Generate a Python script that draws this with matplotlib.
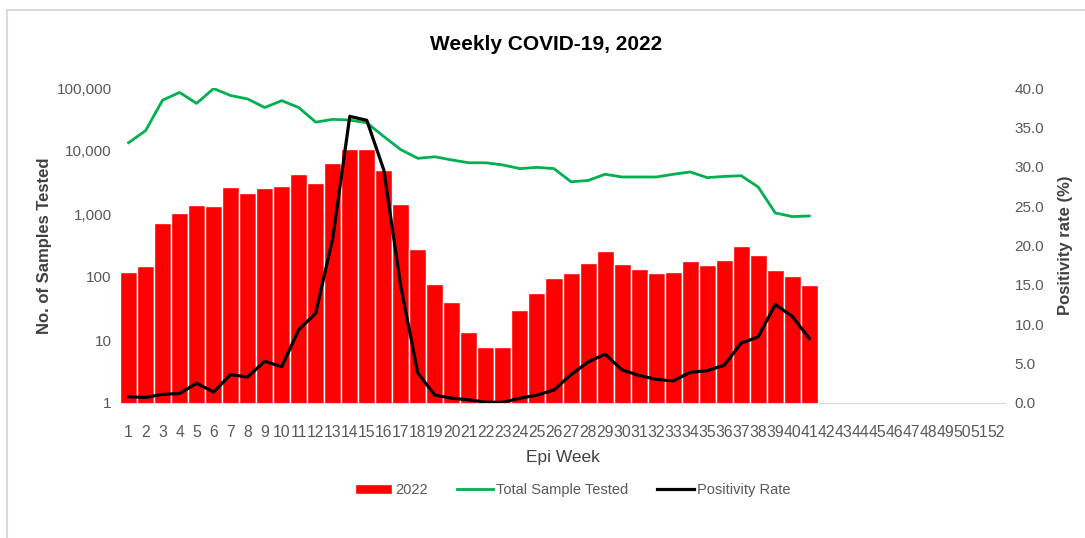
import numpy as np
import matplotlib
matplotlib.use("Agg")
import matplotlib.pyplot as plt
from matplotlib.patches import Rectangle
from matplotlib.ticker import FuncFormatter, FixedLocator

plt.rcParams['font.family'] = ['Liberation Sans Narrow', 'Liberation Sans', 'DejaVu Sans']

###############################################
# data
weeks = list(range(1, 53))
positives = [118, 148, 720, 1040, 1390, 1340, 2700, 2150, 2570, 2770,
             4300, 3080, 6450, 10700, 10700, 5000, 1440, 277, 77, 40,
             13.5, 7.8, 7.8, 30, 55, 95, 116, 166, 258, 161,
             133, 116, 120, 180, 154, 186, 314, 224, 129, 102, 76]
total_tested = [13500, 21000, 64000, 85000, 57000, 98000, 76000, 67000, 49000, 63000,
                49000, 28700, 31800, 31000, 28000, 17000, 10500, 7650, 8100, 7200,
                6500, 6500, 6000, 5250, 5500, 5250, 3250, 3400, 4270, 3870,
                3870, 3870, 4270, 4650, 3780, 3950, 4050, 2680, 1040, 910, 930]
positivity = [0.8, 0.7, 1.1, 1.2, 2.5, 1.4, 3.6, 3.3, 5.3, 4.6,
              9.3, 11.4, 20.9, 36.4, 35.9, 29.6, 14.8, 3.8, 1.0, 0.6,
              0.4, 0.1, 0.1, 0.6, 1.0, 1.65, 3.6, 5.2, 6.2, 4.2,
              3.5, 3.0, 2.8, 3.9, 4.1, 4.8, 7.6, 8.4, 12.5, 11.0, 8.2]
left_ticks = [1, 10, 100, 1000, 10000, 100000]
right_ticks = [0, 5, 10, 15, 20, 25, 30, 35, 40]
###############################################

RED = "#FF0000"
GREEN = "#00B050"
GRAY = "#595959"

fig = plt.figure(figsize=(10.85, 5.38), dpi=100)
# faint frame of the original screenshot
fig.patches.append(Rectangle((7 / 1085, -0.01), 1.1, 1 - 10 / 538 + 0.01,
                             transform=fig.transFigure, fill=False,
                             edgecolor="#D9D9D9", linewidth=1.5))

ax = fig.add_axes([120 / 1085, 1 - 403 / 538, 885 / 1085, 315 / 538])
ax2 = ax.twinx()

x = np.arange(len(weeks))
n = len(positives)

bars = ax.bar(x[:n], positives, width=1.0, color=RED, edgecolor="white",
              linewidth=1.0, label="2022", zorder=2)
green, = ax.plot(x[:n], total_tested, color=GREEN, linewidth=2.0,
                 label="Total Sample Tested", zorder=3)
black, = ax2.plot(x[:n], positivity, color="black", linewidth=2.3,
                  label="Positivity Rate", zorder=3)

ax.set_yscale("log")
ax.set_ylim(1, 100000)
ax.yaxis.set_major_locator(FixedLocator(left_ticks))
ax.yaxis.set_minor_locator(FixedLocator([]))
ax.yaxis.set_major_formatter(FuncFormatter(lambda v, p: f"{int(v):,}"))
ax.set_xlim(-0.5, len(weeks) - 0.5)
ax.set_xticks(x)
ax.set_xticklabels([str(w) for w in weeks])

ax2.set_ylim(0, 40)
ax2.set_yticks(right_ticks)
ax2.yaxis.set_major_formatter(FuncFormatter(lambda v, p: f"{v:.1f}"))

for a in (ax, ax2):
    for s in a.spines.values():
        s.set_visible(False)
    a.tick_params(length=0, colors=GRAY, labelsize=11)
ax.spines["bottom"].set_visible(True)
ax.spines["bottom"].set_color("#D9D9D9")
ax.tick_params(axis="x", pad=16, labelsize=11.3)
ax.tick_params(axis="y", pad=6)
ax2.tick_params(axis="y", pad=7)

ax.set_ylabel("No. of Samples Tested", fontsize=12, fontweight="bold",
              color="#404040", labelpad=3)
ax2.set_ylabel("Positivity rate (%)", fontsize=12, fontweight="bold",
               color="#404040", labelpad=10)
ax.set_xlabel("Epi Week", fontsize=12.5, color="#404040", labelpad=7)

fig.text(0.503, 1 - 45 / 538, "Weekly COVID-19, 2022", ha="center", va="center",
         fontsize=15, fontweight="bold", color="black")

fig.legend([bars, green, black],
           ["2022", "Total Sample Tested", "Positivity Rate"],
           loc="center", bbox_to_anchor=(0.528, 1 - 490 / 538), ncol=3,
           frameon=False, fontsize=10.5, labelcolor=GRAY,
           handlelength=2.5, handletextpad=0.2, columnspacing=2.0)

fig.savefig("out.png", dpi=100)
